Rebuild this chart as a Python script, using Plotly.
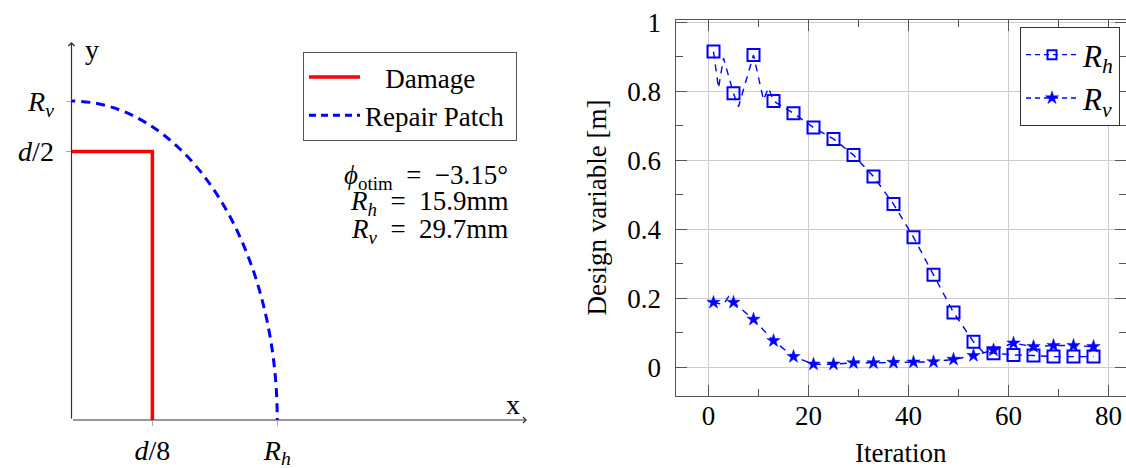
import plotly.graph_objects as go

# ---------------- Left panel data (mm) ----------------
d = 50.0
Rh_mm = 15.9
Rv_mm = 29.7
phi_otim = -3.15
damage_x = [0, d / 8, d / 8]
damage_y = [d / 2, d / 2, 0]
left_xtick_vals = [d / 8, Rh_mm]
left_xtick_text = ["<i>d</i>/8", "<i>R<sub>h</sub></i>"]
left_ytick_vals = [d / 2, Rv_mm]
left_ytick_text = ["<i>d</i>/2", "<i>R<sub>v</sub></i>"]

# ---------------- Right panel data ----------------
rh_iter = [1, 2, 3, 5, 6, 9, 11, 12, 13, 17, 21, 25, 29, 33, 37, 41, 45, 49, 53, 55, 57, 61, 65, 69, 73, 77]
rh_vals = [0.915, 0.809, 0.896, 0.794, 0.755, 0.905, 0.775, 0.81, 0.772, 0.736, 0.695, 0.662, 0.615,
           0.553, 0.473, 0.377, 0.268, 0.159, 0.074, 0.043, 0.041, 0.036, 0.034, 0.031, 0.031, 0.031]
rv_iter = [1, 3, 4, 5, 9, 13, 17, 21, 25, 29, 33, 37, 41, 45, 49, 53, 57, 61, 65, 69, 73, 77]
rv_vals = [0.188, 0.182, 0.205, 0.188, 0.139, 0.077, 0.031, 0.009, 0.009, 0.013, 0.013, 0.014, 0.015,
           0.016, 0.023, 0.034, 0.050, 0.070, 0.060, 0.063, 0.063, 0.060]
mark_every = 4

FONT = "Liberation Serif"
W, H = 1126, 468


def px_x(p):
    return p / W


def px_y(p):
    return (H - p) / H


fig = go.Figure()

# Damage (red)
fig.add_trace(go.Scatter(x=damage_x, y=damage_y, mode="lines",
                         name="\u2002\u00a0Damage",
                         line=dict(color="#ff0000", width=3.5), legend="legend",
                         legendrank=1, xaxis="x", yaxis="y", hoverinfo="skip"))

# Repair patch ellipse (quarter visible) as a shape in data coordinates
fig.add_shape(type="circle", xref="x", yref="y", x0=-Rh_mm, x1=Rh_mm, y0=-Rv_mm, y1=Rv_mm,
              line=dict(color="#0000ff", width=3, dash="9px,6px"), layer="above")
# legend entry for the repair patch
fig.add_trace(go.Scatter(x=[None], y=[None], mode="lines", name="Repair Patch\u00a0",
                         line=dict(color="#0000ff", width=3, dash="7px,5px"), legend="legend",
                         legendrank=2, xaxis="x", yaxis="y"))


def marked(it, vals):
    xs, ys = [], []
    for a, b in zip(it, vals):
        if (a - 1) % mark_every == 0:
            xs.append(a)
            ys.append(b)
    return xs, ys


dash_r = "7px,6px"
for it, vals, sym, msize, mlw, name in [
    (rh_iter, rh_vals, "square-open", 12, 2, "<i>R<sub>h</sub></i>"),
    (rv_iter, rv_vals, "star", 10, 0.5, "<i>R<sub>v</sub></i>"),
]:
    fig.add_trace(go.Scatter(x=it, y=vals, mode="lines", showlegend=False,
                             line=dict(color="#0000ff", width=1.4, dash=dash_r),
                             xaxis="x2", yaxis="y2", hoverinfo="skip"))
    mx, my = marked(it, vals)
    fig.add_trace(go.Scatter(x=mx, y=my, mode="markers", showlegend=False,
                             marker=dict(symbol=sym, size=msize, color="#0000ff",
                                         line=dict(color="#0000ff", width=mlw)),
                             xaxis="x2", yaxis="y2"))
    fig.add_trace(go.Scatter(x=[None], y=[None], mode="lines+markers", name=name,
                             legend="legend2",
                             line=dict(color="#0000ff", width=1.4, dash="5px,4px"),
                             marker=dict(symbol=sym, size=9 if sym != "star" else 10, color="#0000ff",
                                         line=dict(color="#0000ff", width=mlw)),
                             xaxis="x2", yaxis="y2"))

axis_line = "#555555"
grid_c = "#cccccc"

fig.update_layout(
    width=W, height=H, margin=dict(l=0, r=0, t=0, b=0),
    paper_bgcolor="white", plot_bgcolor="white",
    font=dict(family=FONT, size=25, color="black"),
    xaxis=dict(domain=[px_x(71.5), px_x(527)], range=[0, 35.2], showgrid=False, zeroline=False,
               showline=False, tickvals=left_xtick_vals, ticktext=left_xtick_text,
               ticks="outside", ticklen=5, tickcolor="#aaaaaa", tickfont=dict(size=28),
               ticklabelstandoff=0, automargin=False, fixedrange=True),
    yaxis=dict(domain=[px_y(420), px_y(42)], range=[0, 35.2], showgrid=False, zeroline=False,
               showline=False, tickvals=left_ytick_vals, ticktext=left_ytick_text,
               ticks="outside", ticklen=5, tickcolor="#aaaaaa", tickfont=dict(size=28),
               ticklabelstandoff=6, automargin=False, fixedrange=True),
    xaxis2=dict(anchor="y2", domain=[px_x(675.5), 1.0], range=[-6.6, 83.5],
                tick0=0, dtick=20, ticks="inside", ticklen=11, tickcolor=axis_line,
                showline=True, linecolor=axis_line, linewidth=1, mirror="ticks",
                showgrid=True, gridcolor=grid_c, gridwidth=1, zeroline=False,
                minor=dict(dtick=10, ticks="inside", ticklen=7, tickcolor=axis_line, showgrid=False),
                tickfont=dict(size=27), ticklabelstandoff=-4,
                title=dict(text="Iteration", font=dict(size=27), standoff=24),
                automargin=False, fixedrange=True),
    yaxis2=dict(anchor="x2", domain=[px_y(395.6), px_y(19.5)], range=[-0.082, 1.008],
                tick0=0, dtick=0.2, ticks="inside", ticklen=11, tickcolor=axis_line,
                showline=True, linecolor=axis_line, linewidth=1, mirror="ticks",
                showgrid=True, gridcolor=grid_c, gridwidth=1, zeroline=False,
                minor=dict(dtick=0.1, ticks="inside", ticklen=7, tickcolor=axis_line, showgrid=False),
                tickfont=dict(size=27), ticklabelstandoff=8,
                title=dict(text="Design variable [m]", font=dict(size=27), standoff=12),
                automargin=False, fixedrange=True),
    legend=dict(x=px_x(517), xanchor="right", y=px_y(52), yanchor="top",
                bordercolor="#555555", borderwidth=1, bgcolor="white",
                font=dict(size=27, family=FONT), itemwidth=51, tracegroupgap=0),
    legend2=dict(x=px_x(1120), xanchor="right", y=px_y(27), yanchor="top",
                 bordercolor="#333333", borderwidth=1, bgcolor="white",
                 font=dict(size=31, family=FONT), itemwidth=52, tracegroupgap=0),
)

# Axis lines with arrows for the left sketch
fig.add_annotation(x=35.2, y=0, ax=0, ay=0, xref="x", yref="y", axref="x", ayref="y",
                   text="", showarrow=True, arrowhead=4, arrowsize=1, arrowwidth=1.2,
                   arrowcolor="#333333")
fig.add_annotation(x=0, y=35.2, ax=0, ay=0, xref="x", yref="y", axref="x", ayref="y",
                   text="", showarrow=True, arrowhead=4, arrowsize=1, arrowwidth=1.2,
                   arrowcolor="#333333")
fig.add_annotation(x=px_x(513), y=px_y(404), xref="paper", yref="paper", text="x",
                   showarrow=False, xanchor="center", yanchor="middle", font=dict(size=28))
fig.add_annotation(x=px_x(92), y=px_y(50), xref="paper", yref="paper", text="y",
                   showarrow=False, xanchor="center", yanchor="middle", font=dict(size=28))

# Result text
EQ = "\u2002=\u2002"
for txt, yc in [(f"<i>ϕ</i><sub>otim</sub>{EQ}−{abs(phi_otim):.2f}°", 177),
                (f"<i>R<sub>h</sub></i>{EQ}{Rh_mm}mm", 203),
                (f"<i>R<sub>v</sub></i>{EQ}{Rv_mm}mm", 231)]:
    fig.add_annotation(x=px_x(510), y=px_y(yc), xref="paper", yref="paper", text=txt,
                       showarrow=False, xanchor="right", yanchor="middle",
                       font=dict(size=27))

fig.write_html("out.html")
